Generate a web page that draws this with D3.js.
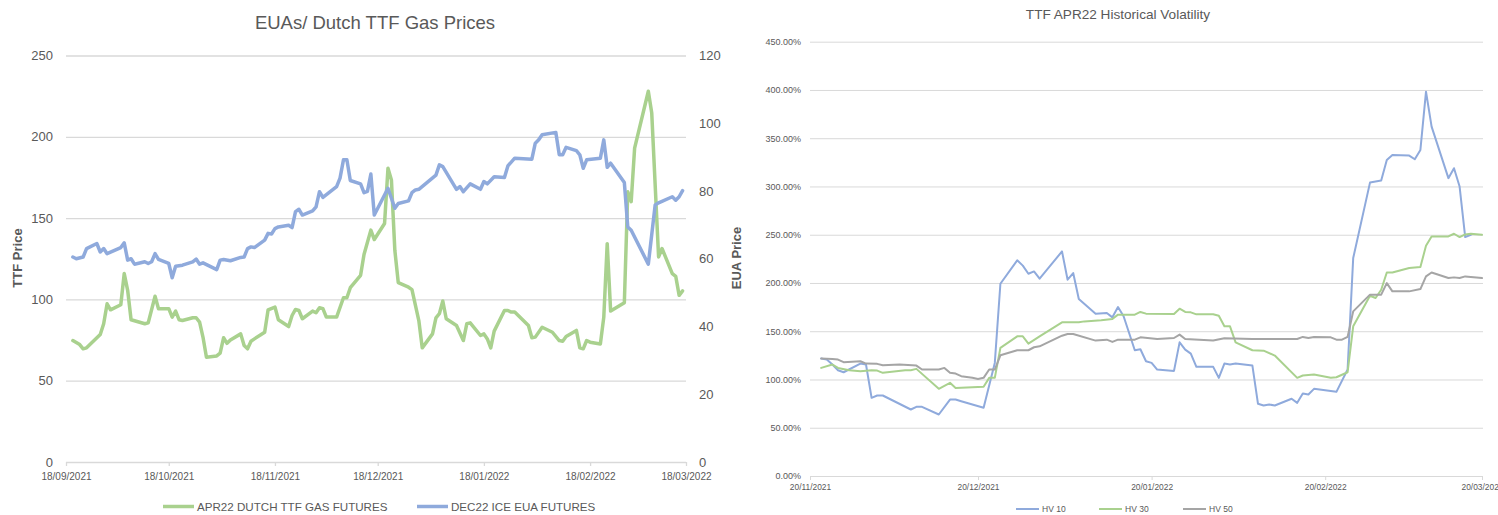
<!DOCTYPE html>
<html><head><meta charset="utf-8">
<script src="https://cdn.jsdelivr.net/npm/d3@7"></script>
<style>
body{margin:0;background:#fff;}
svg{display:block;}
text{font-family:"Liberation Sans",Arial,sans-serif;fill:#595959;}
.domain{display:none;}
</style>
</head><body>
<svg id="c" width="1498" height="515"></svg>
<script>
// ---------- LEFT CHART DATA ----------
const leftTitle = "EUAs/ Dutch TTF Gas Prices";
const leftSeriesNames = ["APR22 DUTCH TTF GAS FUTURES", "DEC22 ICE EUA FUTURES"];
const leftXTicks = ["18/09/2021","18/10/2021","18/11/2021","18/12/2021","18/01/2022","18/02/2022","18/03/2022"];
const leftYTicks = [0,50,100,150,200,250];
const leftY2Ticks = [0,20,40,60,80,100,120];

const ttfDates = ["20/09/2021","22/09/2021","23/09/2021","24/09/2021","28/09/2021","29/09/2021","30/09/2021","01/10/2021","04/10/2021","05/10/2021","06/10/2021","07/10/2021","11/10/2021","12/10/2021","14/10/2021","15/10/2021","18/10/2021","19/10/2021","20/10/2021","21/10/2021","22/10/2021","25/10/2021","26/10/2021","27/10/2021","28/10/2021","29/10/2021","01/11/2021","02/11/2021","03/11/2021","04/11/2021","05/11/2021","08/11/2021","09/11/2021","10/11/2021","11/11/2021","12/11/2021","15/11/2021","16/11/2021","18/11/2021","19/11/2021","22/11/2021","23/11/2021","24/11/2021","25/11/2021","26/11/2021","29/11/2021","30/11/2021","01/12/2021","02/12/2021","03/12/2021","06/12/2021","08/12/2021","09/12/2021","10/12/2021","13/12/2021","14/12/2021","16/12/2021","17/12/2021","20/12/2021","21/12/2021","22/12/2021","23/12/2021","24/12/2021","27/12/2021","28/12/2021","30/12/2021","31/12/2021","03/01/2022","04/01/2022","05/01/2022","06/01/2022","07/01/2022","10/01/2022","12/01/2022","13/01/2022","14/01/2022","17/01/2022","18/01/2022","19/01/2022","20/01/2022","21/01/2022","24/01/2022","25/01/2022","26/01/2022","27/01/2022","31/01/2022","01/02/2022","02/02/2022","04/02/2022","07/02/2022","09/02/2022","10/02/2022","11/02/2022","14/02/2022","15/02/2022","16/02/2022","17/02/2022","18/02/2022","21/02/2022","22/02/2022","23/02/2022","24/02/2022","28/02/2022","01/03/2022","02/03/2022","03/03/2022","07/03/2022","08/03/2022","10/03/2022","11/03/2022","14/03/2022","15/03/2022","16/03/2022","17/03/2022"];
const ttfValues = [74.7,72.2,69.6,70.2,78.4,85.0,97.3,93.6,96.7,115.9,105.6,87.5,85.0,85.6,101.9,94.3,94.3,89.1,92.8,87.5,87.0,88.7,88.7,86.0,76.7,64.4,65.2,66.9,76.4,73.0,75.1,78.8,71.6,69.6,74.3,75.7,79.8,93.6,95.3,87.5,83.3,90.1,93.8,93.2,88.1,92.8,91.8,94.9,94.3,89.1,89.1,101.0,101.0,107.2,114.8,127.6,142.6,136.8,146.7,180.7,173.5,130.2,110.3,107.5,106.0,87.0,70.2,78.8,88.7,91.2,99.0,88.1,84.0,74.7,85.0,85.6,77.8,78.8,75.7,70.2,80.5,93.2,93.2,92.2,92.2,84.0,76.4,76.8,82.9,79.8,74.7,74.3,77.2,80.9,70.2,69.6,74.7,73.7,72.6,89.1,134.3,92.8,98.0,166.2,160.1,193.0,228.0,214.6,126.1,131.3,115.9,114.2,102.5,105.2];

const euaDates = ["20/09/2021","21/09/2021","23/09/2021","24/09/2021","27/09/2021","28/09/2021","29/09/2021","30/09/2021","04/10/2021","05/10/2021","06/10/2021","07/10/2021","08/10/2021","11/10/2021","12/10/2021","13/10/2021","14/10/2021","15/10/2021","18/10/2021","19/10/2021","20/10/2021","22/10/2021","25/10/2021","26/10/2021","27/10/2021","28/10/2021","01/11/2021","02/11/2021","03/11/2021","05/11/2021","08/11/2021","09/11/2021","10/11/2021","11/11/2021","12/11/2021","15/11/2021","16/11/2021","17/11/2021","18/11/2021","19/11/2021","22/11/2021","23/11/2021","24/11/2021","25/11/2021","26/11/2021","29/11/2021","30/11/2021","01/12/2021","02/12/2021","06/12/2021","07/12/2021","08/12/2021","09/12/2021","10/12/2021","13/12/2021","14/12/2021","15/12/2021","16/12/2021","17/12/2021","21/12/2021","23/12/2021","24/12/2021","27/12/2021","28/12/2021","29/12/2021","30/12/2021","04/01/2022","05/01/2022","06/01/2022","10/01/2022","11/01/2022","12/01/2022","14/01/2022","17/01/2022","18/01/2022","19/01/2022","21/01/2022","24/01/2022","25/01/2022","27/01/2022","01/02/2022","02/02/2022","03/02/2022","04/02/2022","08/02/2022","09/02/2022","10/02/2022","11/02/2022","14/02/2022","15/02/2022","16/02/2022","17/02/2022","21/02/2022","22/02/2022","23/02/2022","24/02/2022","28/02/2022","01/03/2022","02/03/2022","07/03/2022","09/03/2022","10/03/2022","14/03/2022","15/03/2022","16/03/2022","17/03/2022"];
const euaValues = [60.5,60.0,60.5,63.0,64.5,62.0,63.0,61.5,63.3,64.7,59.6,60.0,58.4,59.1,58.6,59.1,61.5,59.8,58.6,54.4,57.8,58.1,59.1,59.9,58.4,58.8,56.8,59.6,59.8,59.4,60.4,60.5,63.0,63.5,63.3,65.5,67.5,67.3,68.9,69.4,69.9,69.2,73.9,74.6,72.9,74.1,75.3,79.8,78.1,81.3,83.8,89.2,89.2,83.1,82.1,79.5,79.9,85.0,72.9,80.8,74.9,76.3,77.1,79.5,80.3,80.5,84.7,87.7,87.2,80.5,81.3,79.8,82.1,80.5,82.8,82.1,84.2,84.0,87.4,89.7,89.4,94.1,95.1,96.6,97.3,90.7,90.7,92.9,91.9,90.7,86.7,89.2,89.7,95.1,87.0,88.2,82.5,69.4,68.4,58.4,75.9,76.5,78.3,77.3,78.3,80.1];

// ---------- RIGHT CHART DATA ----------
const rightTitle = "TTF APR22 Historical Volatility";
const hvSeriesNames = ["HV 10","HV 30","HV 50"];
const hvXTicks = ["20/11/2021","20/12/2021","20/01/2022","20/02/2022","20/03/2022"];
const hvYTicks = [0,50,100,150,200,250,300,350,400,450];

const hv10Dates = ["22/11/2021","23/11/2021","24/11/2021","25/11/2021","26/11/2021","29/11/2021","30/11/2021","01/12/2021","02/12/2021","03/12/2021","08/12/2021","09/12/2021","10/12/2021","13/12/2021","15/12/2021","16/12/2021","17/12/2021","21/12/2021","23/12/2021","24/12/2021","27/12/2021","28/12/2021","29/12/2021","30/12/2021","31/12/2021","04/01/2022","05/01/2022","06/01/2022","07/01/2022","10/01/2022","12/01/2022","13/01/2022","14/01/2022","15/01/2022","17/01/2022","18/01/2022","19/01/2022","20/01/2022","21/01/2022","24/01/2022","25/01/2022","26/01/2022","27/01/2022","28/01/2022","31/01/2022","01/02/2022","02/02/2022","03/02/2022","04/02/2022","07/02/2022","08/02/2022","09/02/2022","10/02/2022","11/02/2022","14/02/2022","15/02/2022","16/02/2022","17/02/2022","18/02/2022","22/02/2022","24/02/2022","25/02/2022","28/02/2022","02/03/2022","03/03/2022","04/03/2022","07/03/2022","08/03/2022","09/03/2022","10/03/2022","11/03/2022","14/03/2022","15/03/2022","16/03/2022","17/03/2022","18/03/2022"];
const hv10Values = [121.7,120.6,115.5,109.6,107.5,116.5,115.5,81.0,83.4,83.4,68.9,71.7,71.7,63.7,79.2,79.2,77.5,70.7,117.2,199.2,223.5,218.0,209.6,212.0,204.4,232.7,203.4,210.3,183.4,168.2,168.9,164.4,175.1,165.5,130.3,131.3,118.9,117.2,110.3,108.9,138.5,131.0,126.8,113.1,113.1,101.7,116.5,115.5,116.5,114.4,74.8,73.0,74.1,73.0,80.0,75.8,85.4,84.4,90.3,87.2,110.3,225.8,304.0,306.1,327.5,332.7,332.0,328.2,337.9,398.2,362.0,308.6,318.9,299.9,247.6,249.9];

const hv30Dates = ["22/11/2021","24/11/2021","25/11/2021","27/11/2021","29/11/2021","01/12/2021","02/12/2021","03/12/2021","07/12/2021","08/12/2021","09/12/2021","13/12/2021","15/12/2021","16/12/2021","21/12/2021","22/12/2021","23/12/2021","24/12/2021","27/12/2021","28/12/2021","29/12/2021","31/12/2021","04/01/2022","07/01/2022","08/01/2022","11/01/2022","13/01/2022","14/01/2022","17/01/2022","18/01/2022","19/01/2022","24/01/2022","25/01/2022","26/01/2022","27/01/2022","28/01/2022","31/01/2022","01/02/2022","02/02/2022","03/02/2022","04/02/2022","07/02/2022","09/02/2022","11/02/2022","15/02/2022","16/02/2022","18/02/2022","21/02/2022","22/02/2022","24/02/2022","25/02/2022","28/02/2022","01/03/2022","02/03/2022","03/03/2022","04/03/2022","07/03/2022","09/03/2022","10/03/2022","11/03/2022","14/03/2022","15/03/2022","16/03/2022","17/03/2022","18/03/2022","20/03/2022"];
const hv30Values = [112.0,115.5,112.0,109.6,108.5,109.6,109.2,106.9,109.6,109.6,111.0,90.3,96.5,91.3,92.4,101.7,101.7,132.7,144.7,144.7,137.2,144.7,159.2,159.2,160.2,161.3,162.7,167.2,167.2,170.0,168.2,167.9,173.4,170.0,169.6,167.5,167.5,166.1,155.1,155.1,138.5,130.3,129.9,124.8,101.7,104.1,105.1,101.7,102.3,107.5,155.1,186.8,184.4,193.0,210.9,210.9,215.6,216.5,238.6,248.2,248.2,251.0,247.6,250.3,251.0,250.0];

const hv50Dates = ["22/11/2021","24/11/2021","25/11/2021","26/11/2021","29/11/2021","30/11/2021","02/12/2021","03/12/2021","06/12/2021","09/12/2021","10/12/2021","13/12/2021","14/12/2021","15/12/2021","16/12/2021","17/12/2021","19/12/2021","20/12/2021","21/12/2021","22/12/2021","23/12/2021","24/12/2021","27/12/2021","29/12/2021","30/12/2021","31/12/2021","04/01/2022","05/01/2022","06/01/2022","10/01/2022","12/01/2022","13/01/2022","14/01/2022","17/01/2022","18/01/2022","21/01/2022","24/01/2022","25/01/2022","26/01/2022","31/01/2022","02/02/2022","07/02/2022","15/02/2022","16/02/2022","17/02/2022","18/02/2022","21/02/2022","22/02/2022","23/02/2022","24/02/2022","25/02/2022","28/02/2022","02/03/2022","03/03/2022","04/03/2022","07/03/2022","09/03/2022","10/03/2022","11/03/2022","14/03/2022","15/03/2022","16/03/2022","17/03/2022","20/03/2022"];
const hv50Values = [121.7,121.3,120.6,117.9,118.9,116.5,116.2,114.8,115.5,114.4,110.3,110.3,112.0,106.9,106.1,103.4,101.7,100.6,101.7,110.3,110.3,125.1,130.3,130.3,133.4,134.4,145.4,147.2,147.2,140.3,141.3,138.9,141.3,141.3,143.7,142.0,143.0,146.5,142.0,140.3,142.7,142.0,142.0,144.1,143.0,144.1,143.7,141.3,141.3,144.1,170.6,187.9,187.9,199.9,191.3,191.3,193.7,206.8,210.9,205.1,205.8,205.1,206.8,205.1];

// ---------- DRAW ----------
const parse = d3.timeParse("%d/%m/%Y");
const svg = d3.select("#c");
const GRID = "#d9d9d9";
const BLUE = "#8faadc", GREEN = "#a9d18e", GRAY = "#a5a5a5";
const zip = (ds, vs) => ds.map((d, i) => ({date: parse(d), value: vs[i]}));

// ===== Left chart =====
{
  const x = d3.scaleTime().domain([parse(leftXTicks[0]), parse(leftXTicks[leftXTicks.length-1])]).range([66, 686]);
  const y = d3.scaleLinear().domain([0, 250]).range([462, 55.5]);
  const y2 = d3.scaleLinear().domain([0, 120]).range([462, 55.5]);
  const g = svg.append("g");

  const ga = g.append("g").attr("transform", "translate(66,0)")
    .call(d3.axisLeft(y).tickValues(leftYTicks).tickSize(-620).tickPadding(13).tickFormat(d3.format("d")));
  ga.selectAll("line").attr("stroke", GRID).attr("stroke-width", 1.3);
  ga.selectAll("text").style("font-size", "13px").attr("fill", "#595959");

  const gb = g.append("g").attr("transform", "translate(686,0)")
    .call(d3.axisRight(y2).tickValues(leftY2Ticks).tickSize(0).tickPadding(13).tickFormat(d3.format("d")));
  gb.selectAll("text").style("font-size", "13px").attr("fill", "#595959");

  const gx = g.append("g").attr("transform", "translate(0,462)")
    .call(d3.axisBottom(x).tickValues(leftXTicks.map(parse)).tickSize(4).tickPadding(7).tickFormat(d3.timeFormat("%d/%m/%Y")));
  gx.select(".domain").style("display", null).attr("stroke", GRID).attr("stroke-width", 1.3);
  gx.selectAll("line").attr("stroke", GRID).attr("stroke-width", 1.3);
  gx.selectAll("text").style("font-size", "10px").attr("fill", "#595959");

  const line = (yy) => d3.line().x(d => x(d.date)).y(d => yy(d.value));
  g.append("path").datum(zip(ttfDates, ttfValues)).attr("d", line(y))
    .attr("fill", "none").attr("stroke", GREEN).attr("stroke-width", 3.5).attr("stroke-linejoin", "round").attr("stroke-linecap", "round");
  g.append("path").datum(zip(euaDates, euaValues)).attr("d", line(y2))
    .attr("fill", "none").attr("stroke", BLUE).attr("stroke-width", 3.5).attr("stroke-linejoin", "round").attr("stroke-linecap", "round");

  g.append("text").attr("x", 375).attr("y", 29).attr("text-anchor", "middle")
    .style("font-size", "18.5px").text(leftTitle);
  g.append("text").attr("transform", "translate(22,258) rotate(-90)").attr("text-anchor", "middle")
    .style("font-size", "13px").style("font-weight", "bold").text("TTF Price");
  g.append("text").attr("transform", "translate(741,258) rotate(-90)").attr("text-anchor", "middle")
    .style("font-size", "13px").style("font-weight", "bold").text("EUA Price");

  const lg = [{x: 163, c: GREEN, t: leftSeriesNames[0]}, {x: 417, c: BLUE, t: leftSeriesNames[1]}];
  lg.forEach(l => {
    g.append("line").attr("x1", l.x).attr("x2", l.x + 31).attr("y1", 506.5).attr("y2", 506.5)
      .attr("stroke", l.c).attr("stroke-width", 3.5);
    g.append("text").attr("x", l.x + 34).attr("y", 511).style("font-size", "11.6px").text(l.t);
  });
}

// ===== Right chart =====
{
  const x = d3.scaleTime().domain([parse(hvXTicks[0]), parse(hvXTicks[hvXTicks.length-1])]).range([810, 1482]);
  const y = d3.scaleLinear().domain([0, 450]).range([476, 41.7]);
  const g = svg.append("g");

  const ga = g.append("g").attr("transform", "translate(810,0)")
    .call(d3.axisLeft(y).tickValues(hvYTicks).tickSize(-673).tickPadding(9).tickFormat(d => d.toFixed(2) + "%"));
  ga.selectAll("line").attr("stroke", GRID).attr("stroke-width", 1);
  ga.selectAll("text").style("font-size", "9px").attr("fill", "#595959");

  const gx = g.append("g").attr("transform", "translate(0,476)")
    .call(d3.axisBottom(x).tickValues(hvXTicks.map(parse)).tickSize(4).tickPadding(4).tickFormat(d3.timeFormat("%d/%m/%Y")));
  gx.select(".domain").style("display", null).attr("stroke", GRID);
  gx.selectAll("line").attr("stroke", GRID);
  gx.selectAll("text").style("font-size", "8.4px").attr("fill", "#595959");

  const line = d3.line().x(d => x(d.date)).y(d => y(d.value));
  const series = [
    {d: zip(hv10Dates, hv10Values), c: BLUE},
    {d: zip(hv30Dates, hv30Values), c: GREEN},
    {d: zip(hv50Dates, hv50Values), c: GRAY}
  ];
  series.forEach(s => g.append("path").datum(s.d).attr("d", line)
    .attr("fill", "none").attr("stroke", s.c).attr("stroke-width", 2).attr("stroke-linejoin", "round").attr("stroke-linecap", "round"));

  g.append("text").attr("x", 1118).attr("y", 19).attr("text-anchor", "middle")
    .style("font-size", "13.6px").text(rightTitle);

  const lx = [1016, 1099, 1183];
  hvSeriesNames.forEach((n, i) => {
    g.append("line").attr("x1", lx[i]).attr("x2", lx[i] + 23).attr("y1", 509).attr("y2", 509)
      .attr("stroke", series[i].c).attr("stroke-width", 2);
    g.append("text").attr("x", lx[i] + 26).attr("y", 512).style("font-size", "8.5px").text(n);
  });
}
</script>
</body></html>
